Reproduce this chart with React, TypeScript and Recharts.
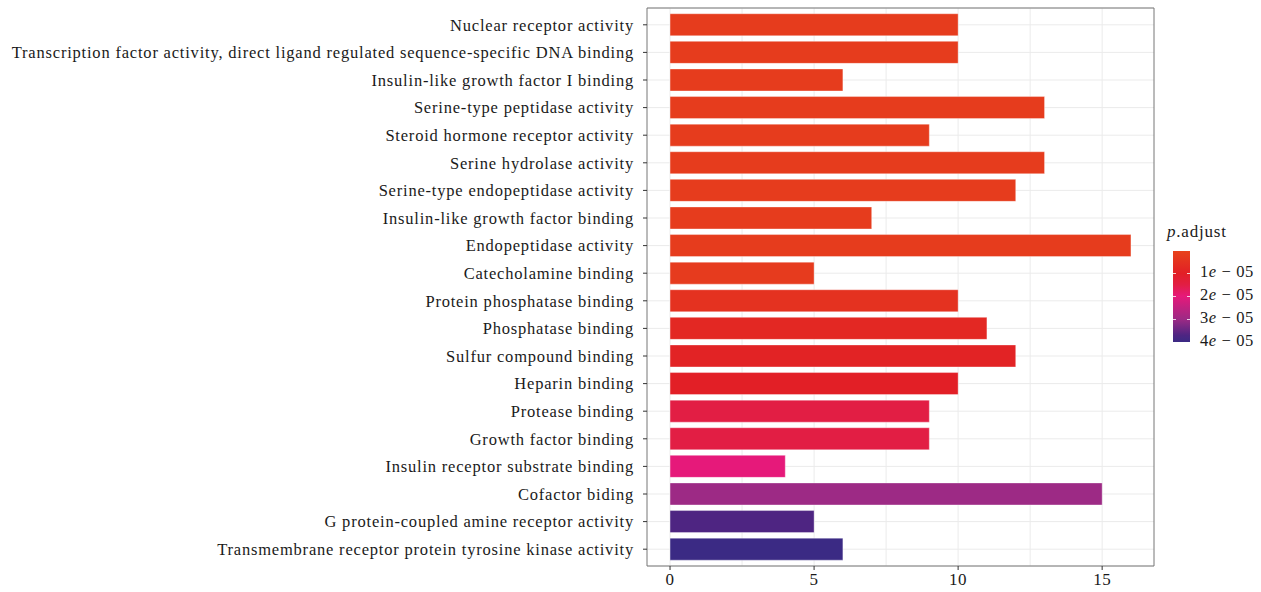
import { BarChart, Bar, XAxis, YAxis, CartesianGrid, Cell } from "recharts";

const terms = [
  "Nuclear receptor activity",
  "Transcription factor activity, direct ligand regulated sequence-specific DNA binding",
  "Insulin-like growth factor I binding",
  "Serine-type peptidase activity",
  "Steroid hormone receptor activity",
  "Serine hydrolase activity",
  "Serine-type endopeptidase activity",
  "Insulin-like growth factor binding",
  "Endopeptidase activity",
  "Catecholamine binding",
  "Protein phosphatase binding",
  "Phosphatase binding",
  "Sulfur compound binding",
  "Heparin binding",
  "Protease binding",
  "Growth factor binding",
  "Insulin receptor substrate binding",
  "Cofactor biding",
  "G protein-coupled amine receptor activity",
  "Transmembrane receptor protein tyrosine kinase activity",
];

const counts = [10, 10, 6, 13, 9, 13, 12, 7, 16, 5, 10, 11, 12, 10, 9, 9, 4, 15, 5, 6];

// p.adjust, in units of 1e-05
const pAdjust = [0.2, 0.2, 0.2, 0.2, 0.2, 0.2, 0.2, 0.2, 0.2, 0.25, 0.5, 0.75, 0.9, 1.0, 1.5, 1.5, 2.0, 3.0, 3.7, 4.0];

const xTicks = [0, 5, 10, 15];
const gridX = [0, 2.5, 5, 7.5, 10, 12.5, 15];
const legendTicks = [1, 2, 3, 4];
const legendRange = [0.02, 4.0];

// colour scale stops (value in 1e-05, colour)
const scaleStops: [number, string][] = [
  [0.02, "#E8421C"],
  [0.3, "#E5391E"],
  [1.0, "#E21F26"],
  [1.5, "#E21E44"],
  [2.0, "#E6197A"],
  [3.0, "#9D2A85"],
  [3.7, "#4E2582"],
  [4.0, "#3B2A84"],
];

function hex(c: string) {
  return [1, 3, 5].map((i) => parseInt(c.slice(i, i + 2), 16));
}

function colorFor(v: number) {
  if (v <= scaleStops[0][0]) return scaleStops[0][1];
  for (let i = 1; i < scaleStops.length; i++) {
    const [v1, c1] = scaleStops[i];
    const [v0, c0] = scaleStops[i - 1];
    if (v <= v1) {
      const t = (v - v0) / (v1 - v0);
      const a = hex(c0);
      const b = hex(c1);
      const m = a.map((x, k) => Math.round(x + (b[k] - x) * t));
      return `rgb(${m[0]},${m[1]},${m[2]})`;
    }
  }
  return scaleStops[scaleStops.length - 1][1];
}

const data = terms.map((term, i) => ({ term, count: counts[i], p: pAdjust[i] }));

const FONT = "'Liberation Serif', 'DejaVu Serif', serif";
const BORDER = { stroke: "#777", strokeWidth: 1 };

function Legend() {
  const top = 251;
  const h = 91;
  const span = legendRange[1] - legendRange[0];
  const grad = scaleStops
    .map(([v, c]) => `${c} ${(((v - legendRange[0]) / span) * 100).toFixed(1)}%`)
    .join(", ");
  return (
    <div style={{ position: "absolute", left: 1167, top: 222, fontFamily: FONT, color: "#1a1a1a" }}>
      <div style={{ fontSize: 17, letterSpacing: 0.8 }}>
        <i>p</i>.adjust
      </div>
      <div
        style={{
          position: "absolute",
          left: 6,
          top: top - 222,
          width: 17,
          height: h,
          background: `linear-gradient(to bottom, ${grad})`,
        }}
      />
      {legendTicks.map((t) => {
        const y = top - 222 + ((t - legendRange[0]) / span) * h;
        return (
          <div key={t}>
            <div style={{ position: "absolute", left: 6, top: y, width: 3, height: 1, background: "rgba(255,255,255,0.8)" }} />
            <div style={{ position: "absolute", left: 20, top: y, width: 3, height: 1, background: "rgba(255,255,255,0.8)" }} />
            <div style={{ position: "absolute", left: 33, top: y - 11, fontSize: 16.5, letterSpacing: 0.6, whiteSpace: "nowrap" }}>
              {t}
              <i>e</i> − 05
            </div>
          </div>
        );
      })}
    </div>
  );
}

export default function App() {
  return (
    <div style={{ position: "absolute", left: 0, top: 0, width: 1261, height: 592, background: "#fff" }}>
      <BarChart
        width={1261}
        height={592}
        data={data}
        layout="vertical"
        margin={{ top: 7, right: 106, bottom: 0, left: 0 }}
        barCategoryGap="10%"
      >
        <CartesianGrid stroke="#EBEBEB" strokeWidth={1} verticalValues={gridX} />
        <XAxis
          type="number"
          domain={[-0.8, 16.8]}
          ticks={xTicks}
          allowDataOverflow
          height={26}
          axisLine={BORDER}
          tickSize={4}
          tickMargin={3}
          tickLine={{ stroke: "#333" }}
          tick={{ fill: "#1a1a1a", fontSize: 17, fontFamily: FONT, letterSpacing: 0.5 }}
        />
        {/* top and right axes only draw the panel frame */}
        <XAxis xAxisId="frame" orientation="top" type="number" domain={[0, 1]} height={1} tick={false} tickLine={false} axisLine={BORDER} />
        <YAxis
          type="category"
          dataKey="term"
          width={647}
          interval={0}
          padding={{ top: 3, bottom: 3 }}
          axisLine={BORDER}
          tickSize={4}
          tickMargin={9}
          tickLine={{ stroke: "#333" }}
          tick={{ fill: "#1a1a1a", fontSize: 16.5, fontFamily: FONT, letterSpacing: 0.8 }}
        />
        <YAxis yAxisId="frame" orientation="right" type="number" domain={[0, 1]} width={1} tick={false} tickLine={false} axisLine={BORDER} />
        <Bar dataKey="count" isAnimationActive={false} strokeWidth={1} stroke="rgba(255,255,255,0.35)">
          {data.map((d) => (
            <Cell key={d.term} fill={colorFor(d.p)} />
          ))}
        </Bar>
      </BarChart>
      <Legend />
    </div>
  );
}
